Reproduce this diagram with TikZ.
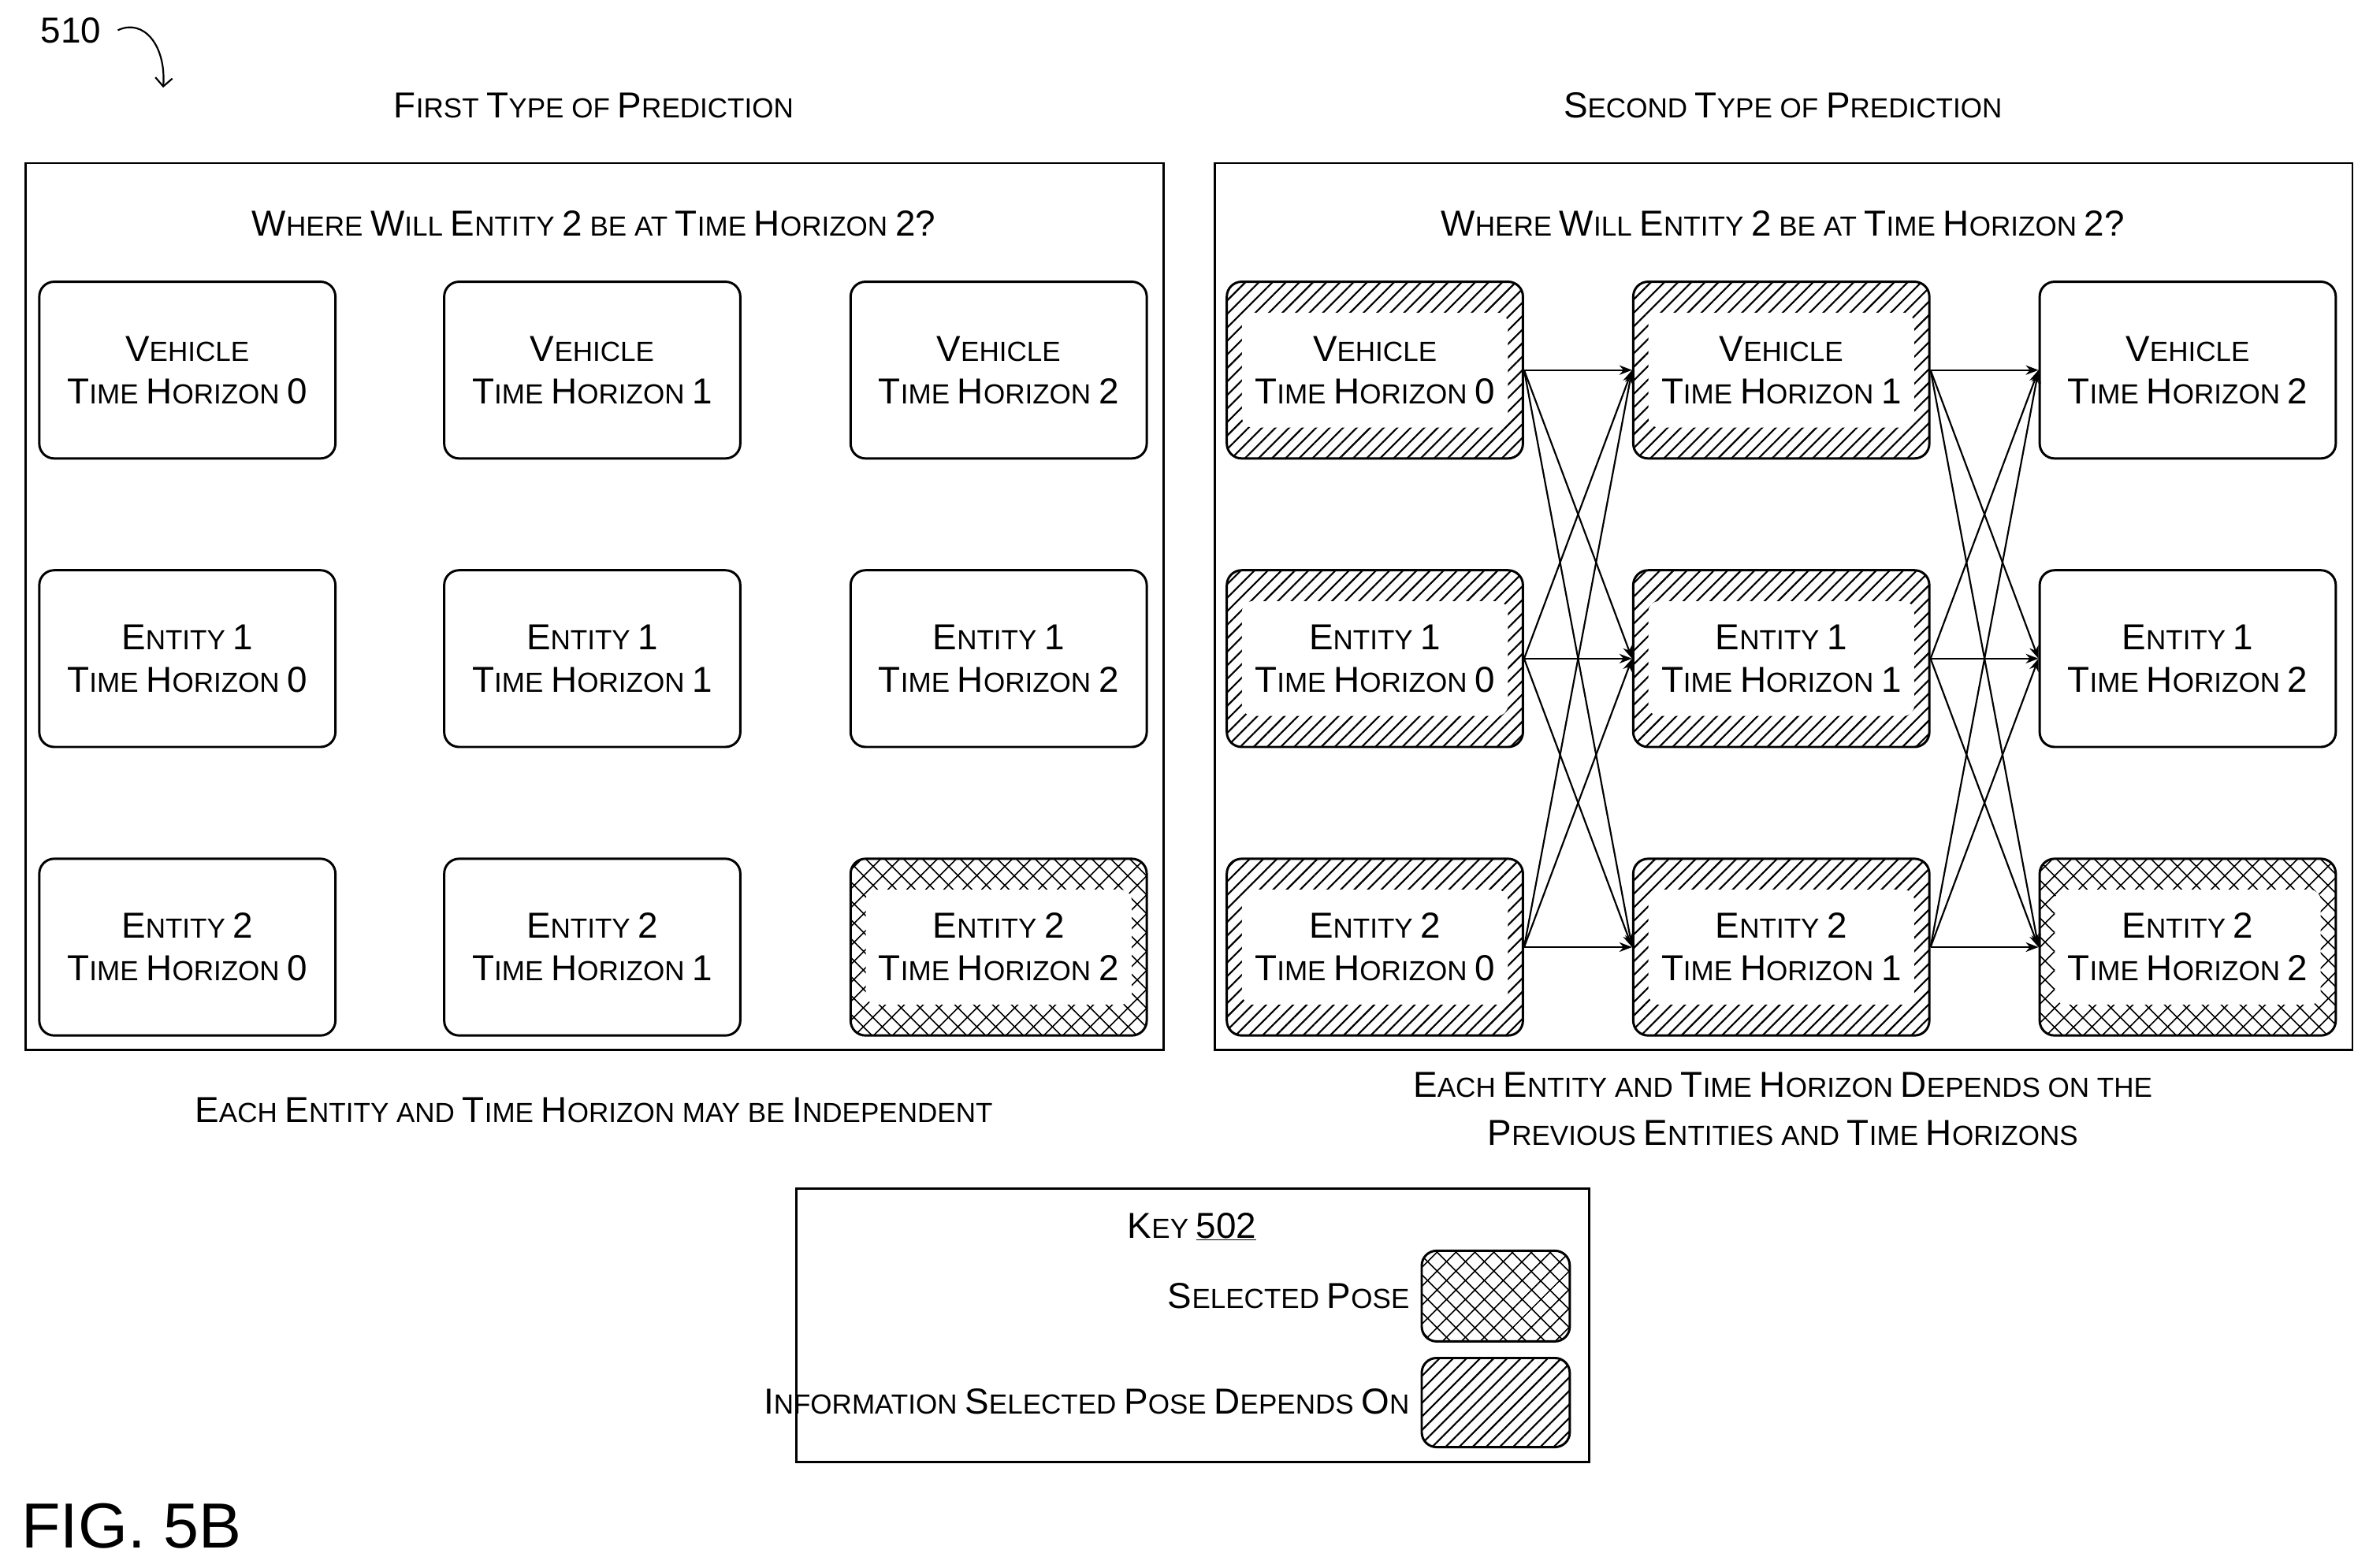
\documentclass[tikz,border=0pt]{standalone}
\usepackage{fontspec}
\setmainfont{Liberation Sans}
\usetikzlibrary{patterns.meta,arrows.meta}
\newcommand\U[1]{{\fontsize{34}{40}\selectfont #1}}
\begin{document}
\begin{tikzpicture}[x=0.05cm,y=-0.05cm,
  font=\fontsize{26}{40}\selectfont,
  box/.style={draw,line width=2.2pt,rounded corners=14pt,minimum width=9.8cm,minimum height=5.85cm,align=center},
  panel/.style={draw,line width=2pt},
  arr/.style={line width=1.6pt,-{Stealth[length=12pt,width=9pt]}},
  txt/.style={align=center,inner sep=0pt}]
\useasboundingbox (0,0) rectangle (1568,1038);
% panels
\draw[panel] (17,108) rectangle (770,695);
\draw[panel] (804,108) rectangle (1557,695);
\node[txt] (t1) at (393,70) {\U{F}IRST \U{T}YPE OF \U{P}REDICTION};
\node[txt] (t2) at (1180,70) {\U{S}ECOND \U{T}YPE OF \U{P}REDICTION};
\node[txt] (q1) at (393,148) {\U{W}HERE \U{W}ILL \U{E}NTITY \U{2} BE AT \U{T}IME \U{H}ORIZON \U{2?}};
\node[txt] (q2) at (1180,148) {\U{W}HERE \U{W}ILL \U{E}NTITY \U{2} BE AT \U{T}IME \U{H}ORIZON \U{2?}};
% patterns helper
\newcommand\hatchdep[2]{%
  \fill[pattern={Lines[angle=45,distance=9pt,line width=1.6pt]}] (#1-98,#2-58) [rounded corners=14pt] rectangle (#1+98,#2+58);
  \fill[white,rounded corners=10pt] (#1-88,#2-38) rectangle (#1+88,#2+38);}
\newcommand\hatchsel[2]{%
  \fill[pattern={Lines[angle=45,distance=13pt,line width=1.4pt]}] (#1-98,#2-58) [rounded corners=14pt] rectangle (#1+98,#2+58);
  \fill[pattern={Lines[angle=-45,distance=13pt,line width=1.4pt]}] (#1-98,#2-58) [rounded corners=14pt] rectangle (#1+98,#2+58);
  \fill[white,rounded corners=10pt] (#1-88,#2-38) rectangle (#1+88,#2+38);}
% left
\hatchsel{661}{627}
\foreach \c/\x in {0/124,1/392,2/661}{
  \node[box] (La\c) at (\x,245) {\U{V}EHICLE\\\U{T}IME \U{H}ORIZON \U{\c}};
  \node[box] (Lb\c) at (\x,436) {\U{E}NTITY \U{1}\\\U{T}IME \U{H}ORIZON \U{\c}};
  \node[box] (Lc\c) at (\x,627) {\U{E}NTITY \U{2}\\\U{T}IME \U{H}ORIZON \U{\c}};
}
% right
\foreach \x in {910,1179}{\foreach \y in {245,436,627}{\hatchdep{\x}{\y}}}
\hatchsel{1448}{627}
\foreach \c/\x in {0/910,1/1179,2/1448}{
  \node[box] (Ra\c) at (\x,245) {\U{V}EHICLE\\\U{T}IME \U{H}ORIZON \U{\c}};
  \node[box] (Rb\c) at (\x,436) {\U{E}NTITY \U{1}\\\U{T}IME \U{H}ORIZON \U{\c}};
  \node[box] (Rc\c) at (\x,627) {\U{E}NTITY \U{2}\\\U{T}IME \U{H}ORIZON \U{\c}};
}
\foreach \s/\t in {0/1,1/2}{
  \foreach \a in {a,b,c}{\foreach \b in {a,b,c}{
    \draw[arr] (R\a\s.east) -- (R\b\t.west);}}}
% captions
\node[txt] (c1) at (393,735) {\U{E}ACH \U{E}NTITY AND \U{T}IME \U{H}ORIZON MAY BE \U{I}NDEPENDENT};
\node[txt] (c2) at (1180,718) {\U{E}ACH \U{E}NTITY AND \U{T}IME \U{H}ORIZON \U{D}EPENDS ON THE};
\node[txt] (c3) at (1180,750) {\U{P}REVIOUS \U{E}NTITIES AND \U{T}IME \U{H}ORIZONS};
% key
\draw[panel] (527,787) rectangle (1052,968);
\node[txt] (k) at (789,812) {\U{K}EY \U{\underline{502}}};
\node[txt,anchor=east] (k1) at (933,858) {\U{S}ELECTED \U{P}OSE};
\node[txt,anchor=east] (k2) at (933,928) {\U{I}NFORMATION \U{S}ELECTED \U{P}OSE \U{D}EPENDS \U{O}N};
\fill[pattern={Lines[angle=45,distance=13pt,line width=1.4pt]}] (941,828) [rounded corners=14pt] rectangle (1039,888);
\fill[pattern={Lines[angle=-45,distance=13pt,line width=1.4pt]}] (941,828) [rounded corners=14pt] rectangle (1039,888);
\draw[line width=2.2pt,rounded corners=14pt] (941,828) rectangle (1039,888);
\fill[pattern={Lines[angle=45,distance=9pt,line width=1.6pt]}] (941,899) [rounded corners=14pt] rectangle (1039,958);
\draw[line width=2.2pt,rounded corners=14pt] (941,899) rectangle (1039,958);
% ref numbers
\node[txt] (n510) at (47,20) {\U{510}};
\coordinate (e510) at (108,58);
\draw[line width=1.6pt,-{Straight Barb[length=8pt]}] (78,20) .. controls (95,12) and (110,30) .. (e510);
\node[txt] (fig) at (87,1010) {\fontsize{60}{70}\selectfont FIG. 5B};
\end{tikzpicture}
\end{document}
